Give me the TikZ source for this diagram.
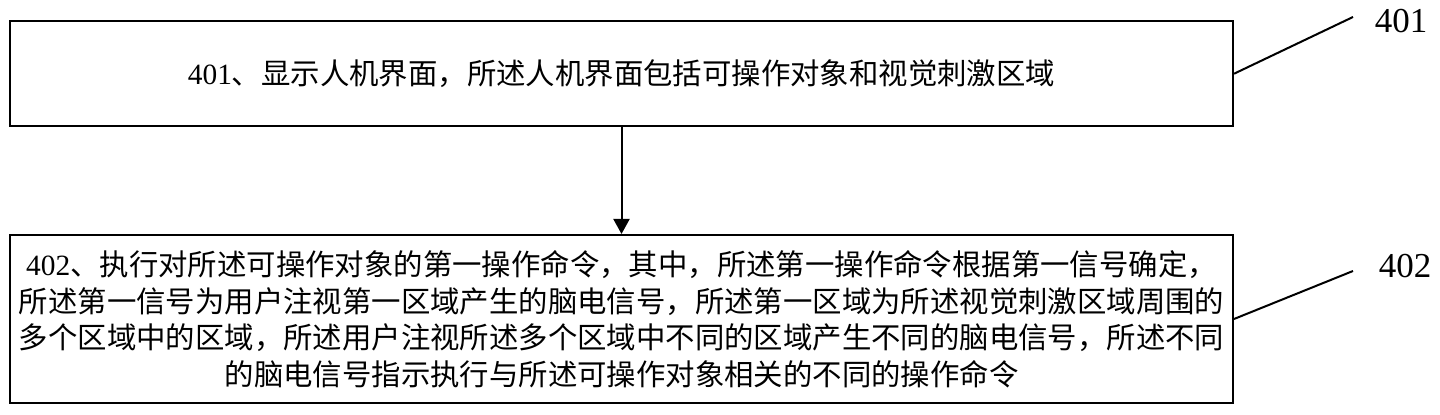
\documentclass[tikz,border=0pt]{standalone}
\usepackage{fontspec}
\setmainfont{Liberation Serif}
\newfontfamily\cjk{Noto Sans CJK SC}
\usetikzlibrary{arrows.meta}
\tikzset{
	stepbox/.style = {draw, line width = 1pt, inner sep = 0pt, align = center,
		font = \fontsize{14.7}{18.25}\selectfont},
	leader/.style = {line width = 1pt},
	reflabel/.style = {font = \fontsize{17.5}{20}\selectfont, inner sep = 0pt}
}
\begin{document}
\begin{tikzpicture} [x = 0.5pt, y = -0.5pt]
	\useasboundingbox (0,0) rectangle (1440,415);
	\node [stepbox, minimum width = 611.5pt, minimum height = 52.25pt] (box1) at (621.5,73.75)
		{401{\cjk 、显示人机界面，所述人机界面包括可操作对象和视觉刺激区域}};
	\node [stepbox, minimum width = 611.5pt, minimum height = 84pt] (box2) at (621.5,319)
		{402{\cjk 、执行对所述可操作对象的第一操作命令，其中，所述第一操作命令根据第一信号确定，}\\
		{\cjk 所述第一信号为用户注视第一区域产生的脑电信号，所述第一区域为所述视觉刺激区域周围的}\\
		{\cjk 多个区域中的区域，所述用户注视所述多个区域中不同的区域产生不同的脑电信号，所述不同}\\
		{\cjk 的脑电信号指示执行与所述可操作对象相关的不同的操作命令}};
	\draw [line width = 1pt, -{Triangle[length = 7.5pt, width = 8pt]}] (box1) -- (box2);
	%labels
	\coordinate (tip401) at (1353,17);
	\coordinate (tip402) at (1353,271);
	\node [reflabel] (lab401) at (1401,21.5) {401};
	\node [reflabel] (lab402) at (1405,266) {402};
	\draw [leader] (box1.east) -- (tip401);
	\draw [leader] (box2.east) -- (tip402);
\end{tikzpicture}
\end{document}
